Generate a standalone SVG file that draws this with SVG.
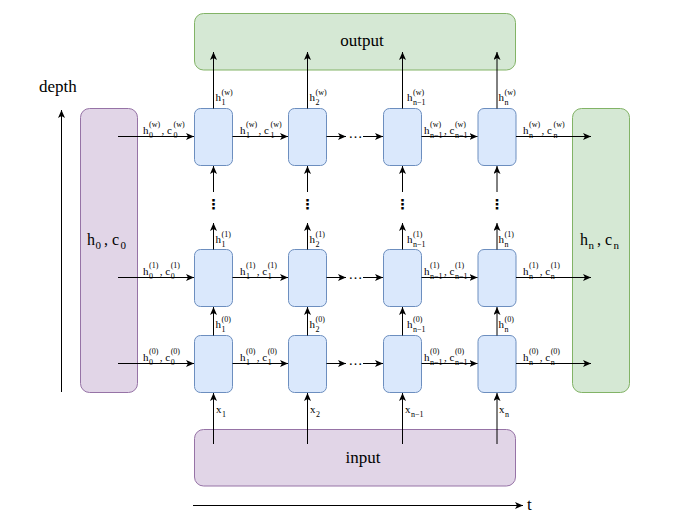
<svg xmlns="http://www.w3.org/2000/svg" width="679" height="518" viewBox="0 0 679 518">
<defs>
<marker id="ah" markerUnits="userSpaceOnUse" markerWidth="8" markerHeight="7" viewBox="0 0 8 7" refX="8" refY="3.5" orient="auto">
<path d="M0,0 L8,3.5 L0,7 L2,3.5 Z" fill="#000"/>
</marker>
<style>
.cell{fill:#dae8fc;stroke:#6c8ebf;stroke-width:1}
.green{fill:#d5e8d4;stroke:#82b366;stroke-width:1}
.purple{fill:#e1d5e7;stroke:#9673a6;stroke-width:1}
.edge{fill:none;stroke:#000;stroke-width:1;marker-end:url(#ah)}
text{font-family:"Liberation Serif","Times New Roman",serif;fill:#000}
.big{font-size:17px}
.m{font-size:11px}
.s{font-size:8px}
.L{font-size:16px}
.Ls{font-size:11px}
.dots{font-family:"DejaVu Sans",sans-serif;font-size:14px;font-weight:bold}
.hd{font-size:14px}
</style>
</defs>
<rect width="679" height="518" fill="#fff"/>

<g id="output"><rect class="green" x="194.5" y="13.5" width="321" height="56.5" rx="9"/><text class="big" x="362" y="46" text-anchor="middle">output</text></g>
<g id="input"><rect class="purple" x="194.5" y="429.5" width="321" height="56.5" rx="9"/><text class="big" x="363" y="463" text-anchor="middle">input</text></g>
<g id="init-state"><rect class="purple" x="80.5" y="108.5" width="57" height="284" rx="9"/><text><tspan class="L" x="87" y="245">h</tspan><tspan class="Ls" x="95.5" y="248.5">0</tspan><tspan class="L" x="104" y="245">, c</tspan><tspan class="Ls" x="120.5" y="248.5">0</tspan></text></g>
<g id="final-state"><rect class="green" x="572.5" y="108.5" width="57" height="284" rx="9"/><text><tspan class="L" x="580" y="245">h</tspan><tspan class="Ls" x="588.5" y="248.5">n</tspan><tspan class="L" x="597" y="245">, c</tspan><tspan class="Ls" x="613.5" y="248.5">n</tspan></text></g>

<g id="cell-w-1"><rect class="cell" x="194.5" y="108.5" width="38" height="57" rx="6"/></g>
<g id="cell-w-2"><rect class="cell" x="288.5" y="108.5" width="38" height="57" rx="6"/></g>
<g id="cell-w-n1"><rect class="cell" x="383.5" y="108.5" width="38" height="57" rx="6"/></g>
<g id="cell-w-n"><rect class="cell" x="478" y="108.5" width="38" height="57" rx="6"/></g>
<g id="cell-1-1"><rect class="cell" x="194.5" y="249.5" width="38" height="57" rx="6"/></g>
<g id="cell-1-2"><rect class="cell" x="288.5" y="249.5" width="38" height="57" rx="6"/></g>
<g id="cell-1-n1"><rect class="cell" x="383.5" y="249.5" width="38" height="57" rx="6"/></g>
<g id="cell-1-n"><rect class="cell" x="478" y="249.5" width="38" height="57" rx="6"/></g>
<g id="cell-0-1"><rect class="cell" x="194.5" y="335.5" width="38" height="57" rx="6"/></g>
<g id="cell-0-2"><rect class="cell" x="288.5" y="335.5" width="38" height="57" rx="6"/></g>
<g id="cell-0-n1"><rect class="cell" x="383.5" y="335.5" width="38" height="57" rx="6"/></g>
<g id="cell-0-n"><rect class="cell" x="478" y="335.5" width="38" height="57" rx="6"/></g>

<g id="connectors">
<path class="edge" d="M118 136.5H194"/>
<path class="edge" d="M232.5 136.5H288"/>
<path class="edge" d="M326.5 136.5H346"/>
<path class="edge" d="M363 136.5H383"/>
<path class="edge" d="M421.5 136.5H477.5"/>
<path class="edge" d="M516 136.5H591"/>
<path class="edge" d="M118 277.5H194"/>
<path class="edge" d="M232.5 277.5H288"/>
<path class="edge" d="M326.5 277.5H346"/>
<path class="edge" d="M363 277.5H383"/>
<path class="edge" d="M421.5 277.5H477.5"/>
<path class="edge" d="M516 277.5H591"/>
<path class="edge" d="M118 363.5H194"/>
<path class="edge" d="M232.5 363.5H288"/>
<path class="edge" d="M326.5 363.5H346"/>
<path class="edge" d="M363 363.5H383"/>
<path class="edge" d="M421.5 363.5H477.5"/>
<path class="edge" d="M516 363.5H591"/>

<path class="edge" d="M213.5 444V393"/>
<path class="edge" d="M213.5 335.5V307"/>
<path class="edge" d="M213.5 249.5V223"/>
<path class="edge" d="M213.5 192V166"/>
<path class="edge" d="M213.5 108.5V52"/>
<path class="edge" d="M307.5 444V393"/>
<path class="edge" d="M307.5 335.5V307"/>
<path class="edge" d="M307.5 249.5V223"/>
<path class="edge" d="M307.5 192V166"/>
<path class="edge" d="M307.5 108.5V52"/>
<path class="edge" d="M402.5 444V393"/>
<path class="edge" d="M402.5 335.5V307"/>
<path class="edge" d="M402.5 249.5V223"/>
<path class="edge" d="M402.5 192V166"/>
<path class="edge" d="M402.5 108.5V52"/>
<path class="edge" d="M497 444V393"/>
<path class="edge" d="M497 335.5V307"/>
<path class="edge" d="M497 249.5V223"/>
<path class="edge" d="M497 192V166"/>
<path class="edge" d="M497 108.5V52"/>

<text class="hd" x="348.5" y="137.5">…</text>
<text class="hd" x="348.5" y="278.5">…</text>
<text class="hd" x="348.5" y="364.5">…</text>
<text class="dots" x="213.5" y="209" text-anchor="middle">⋮</text>
<text class="dots" x="307.5" y="209" text-anchor="middle">⋮</text>
<text class="dots" x="402.5" y="209" text-anchor="middle">⋮</text>
<text class="dots" x="497" y="209" text-anchor="middle">⋮</text>
</g>

<g id="edge-labels">
<text class="m"><tspan x="143" y="133.5">h</tspan><tspan class="s" x="149" y="137.5">0</tspan><tspan class="s" x="149" y="127">(w)</tspan><tspan x="161.6" y="133.5">, c</tspan><tspan class="s" x="173.5" y="137.5">0</tspan><tspan class="s" x="173.5" y="127">(w)</tspan></text>
<text class="m"><tspan x="240" y="133.5">h</tspan><tspan class="s" x="246" y="137.5">1</tspan><tspan class="s" x="246" y="127">(w)</tspan><tspan x="258.6" y="133.5">, c</tspan><tspan class="s" x="270.5" y="137.5">1</tspan><tspan class="s" x="270.5" y="127">(w)</tspan></text>
<text class="m"><tspan x="424" y="133.5">h</tspan><tspan class="s" x="430" y="137.5">n−1</tspan><tspan class="s" x="430" y="127">(w)</tspan><tspan x="444" y="133.5">, c</tspan><tspan class="s" x="454.9" y="137.5">n−1</tspan><tspan class="s" x="454.9" y="127">(w)</tspan></text>
<text class="m"><tspan x="523" y="133.5">h</tspan><tspan class="s" x="529" y="137.5">n</tspan><tspan class="s" x="529" y="127">(w)</tspan><tspan x="541.6" y="133.5">, c</tspan><tspan class="s" x="553.5" y="137.5">n</tspan><tspan class="s" x="553.5" y="127">(w)</tspan></text>

<text class="m"><tspan x="143" y="274.5">h</tspan><tspan class="s" x="149" y="278.5">0</tspan><tspan class="s" x="149" y="268">(1)</tspan><tspan x="159.8" y="274.5">, c</tspan><tspan class="s" x="170.7" y="278.5">0</tspan><tspan class="s" x="170.7" y="268">(1)</tspan></text>
<text class="m"><tspan x="240" y="274.5">h</tspan><tspan class="s" x="246" y="278.5">1</tspan><tspan class="s" x="246" y="268">(1)</tspan><tspan x="256.8" y="274.5">, c</tspan><tspan class="s" x="267.7" y="278.5">1</tspan><tspan class="s" x="267.7" y="268">(1)</tspan></text>
<text class="m"><tspan x="424" y="274.5">h</tspan><tspan class="s" x="430" y="278.5">n−1</tspan><tspan class="s" x="430" y="268">(1)</tspan><tspan x="444" y="274.5">, c</tspan><tspan class="s" x="454.9" y="278.5">n−1</tspan><tspan class="s" x="454.9" y="268">(1)</tspan></text>
<text class="m"><tspan x="523" y="274.5">h</tspan><tspan class="s" x="529" y="278.5">n</tspan><tspan class="s" x="529" y="268">(1)</tspan><tspan x="539.8" y="274.5">, c</tspan><tspan class="s" x="550.7" y="278.5">n</tspan><tspan class="s" x="550.7" y="268">(1)</tspan></text>

<text class="m"><tspan x="143" y="360.5">h</tspan><tspan class="s" x="149" y="364.5">0</tspan><tspan class="s" x="149" y="354">(0)</tspan><tspan x="159.8" y="360.5">, c</tspan><tspan class="s" x="170.7" y="364.5">0</tspan><tspan class="s" x="170.7" y="354">(0)</tspan></text>
<text class="m"><tspan x="240" y="360.5">h</tspan><tspan class="s" x="246" y="364.5">1</tspan><tspan class="s" x="246" y="354">(0)</tspan><tspan x="256.8" y="360.5">, c</tspan><tspan class="s" x="267.7" y="364.5">1</tspan><tspan class="s" x="267.7" y="354">(0)</tspan></text>
<text class="m"><tspan x="424" y="360.5">h</tspan><tspan class="s" x="430" y="364.5">n−1</tspan><tspan class="s" x="430" y="354">(0)</tspan><tspan x="444" y="360.5">, c</tspan><tspan class="s" x="454.9" y="364.5">n−1</tspan><tspan class="s" x="454.9" y="354">(0)</tspan></text>
<text class="m"><tspan x="523" y="360.5">h</tspan><tspan class="s" x="529" y="364.5">n</tspan><tspan class="s" x="529" y="354">(0)</tspan><tspan x="539.8" y="360.5">, c</tspan><tspan class="s" x="550.7" y="364.5">n</tspan><tspan class="s" x="550.7" y="354">(0)</tspan></text>

<text class="m"><tspan x="215.5" y="101">h</tspan><tspan class="s" x="221.5" y="105">1</tspan><tspan class="s" x="221.5" y="95">(w)</tspan></text>
<text class="m"><tspan x="309.5" y="101">h</tspan><tspan class="s" x="315.5" y="105">2</tspan><tspan class="s" x="315.5" y="95">(w)</tspan></text>
<text class="m"><tspan x="407" y="101">h</tspan><tspan class="s" x="413" y="105">n−1</tspan><tspan class="s" x="413" y="95">(w)</tspan></text>
<text class="m"><tspan x="498.5" y="101">h</tspan><tspan class="s" x="504.5" y="105">n</tspan><tspan class="s" x="504.5" y="95">(w)</tspan></text>

<text class="m"><tspan x="215.5" y="243">h</tspan><tspan class="s" x="221.5" y="247">1</tspan><tspan class="s" x="221.5" y="237">(1)</tspan></text>
<text class="m"><tspan x="309.5" y="243">h</tspan><tspan class="s" x="315.5" y="247">2</tspan><tspan class="s" x="315.5" y="237">(1)</tspan></text>
<text class="m"><tspan x="407" y="243">h</tspan><tspan class="s" x="413" y="247">n−1</tspan><tspan class="s" x="413" y="237">(1)</tspan></text>
<text class="m"><tspan x="498.5" y="243">h</tspan><tspan class="s" x="504.5" y="247">n</tspan><tspan class="s" x="504.5" y="237">(1)</tspan></text>

<text class="m"><tspan x="215.5" y="328">h</tspan><tspan class="s" x="221.5" y="332">1</tspan><tspan class="s" x="221.5" y="322">(0)</tspan></text>
<text class="m"><tspan x="309.5" y="328">h</tspan><tspan class="s" x="315.5" y="332">2</tspan><tspan class="s" x="315.5" y="322">(0)</tspan></text>
<text class="m"><tspan x="407" y="328">h</tspan><tspan class="s" x="413" y="332">n−1</tspan><tspan class="s" x="413" y="322">(0)</tspan></text>
<text class="m"><tspan x="498.5" y="328">h</tspan><tspan class="s" x="504.5" y="332">n</tspan><tspan class="s" x="504.5" y="322">(0)</tspan></text>

<text class="m"><tspan x="216" y="413">x</tspan><tspan class="s" x="222" y="417">1</tspan></text>
<text class="m"><tspan x="310" y="413">x</tspan><tspan class="s" x="316" y="417">2</tspan></text>
<text class="m"><tspan x="405" y="413">x</tspan><tspan class="s" x="411" y="417">n−1</tspan></text>
<text class="m"><tspan x="499" y="413">x</tspan><tspan class="s" x="505" y="417">n</tspan></text>
</g>

<g id="axes">
<path class="edge" d="M61.5 392V110"/>
<text class="big" x="39" y="92">depth</text>
<path class="edge" d="M193 505.5H523"/>
<text class="big" x="527" y="510">t</text>
</g>
</svg>
